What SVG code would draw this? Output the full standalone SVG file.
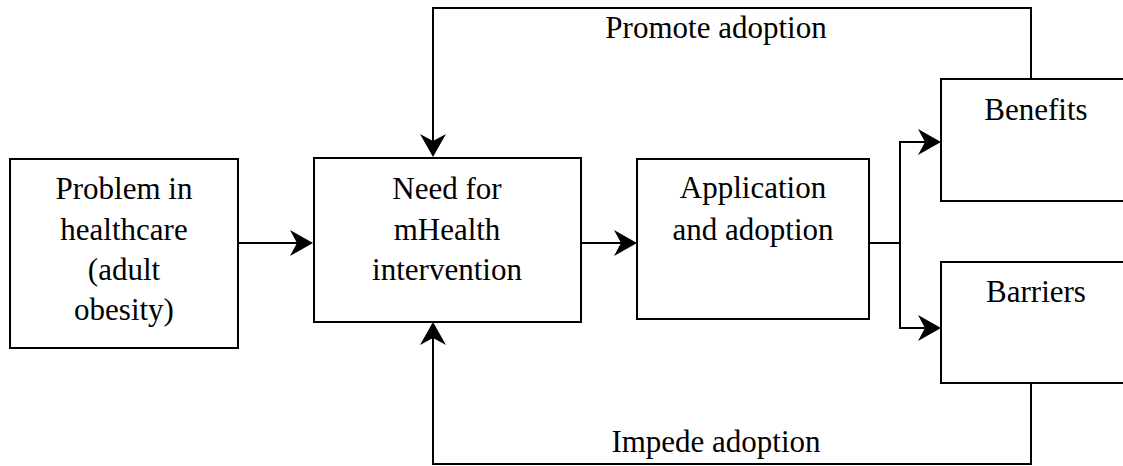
<svg xmlns="http://www.w3.org/2000/svg" width="1123" height="466" viewBox="0 0 1123 466">
<style>
.box{fill:#fff;stroke:#000;stroke-width:2}
.t{font-family:"Liberation Serif","Times New Roman",serif;font-size:31px;fill:#000;text-anchor:middle}
.c{fill:none;stroke:#000;stroke-width:2}
</style>
<defs>
<marker id="ah" markerUnits="userSpaceOnUse" viewBox="-8 -14 26 28" markerWidth="26" markerHeight="28" refX="0" refY="0" orient="auto">
<path d="M16,0 L-7,-13 L0,0 L-7,13 Z" fill="#000"/>
</marker>
</defs>
<rect width="1123" height="466" fill="#fff"/>
<g id="connectors">
<path class="c" d="M237,243 H297" marker-end="url(#ah)"/>
<path class="c" d="M581,243 H621" marker-end="url(#ah)"/>
<path class="c" d="M869,243 H900"/>
<path class="c" d="M900,328 V142 H925" marker-end="url(#ah)"/>
<path class="c" d="M900,243 V328 H925" marker-end="url(#ah)"/>
<path class="c" d="M1031,79 V8 H433 V141" marker-end="url(#ah)"/>
<path class="c" d="M1031,383 V464 H433 V338" marker-end="url(#ah)"/>
<text class="t" x="716" y="38">Promote adoption</text>
<text class="t" x="716" y="452">Impede adoption</text>
</g>
<g id="problem">
<rect class="box" x="10" y="159" width="228" height="189"/>
<text class="t" x="124" y="199">Problem in</text>
<text class="t" x="124" y="240">healthcare</text>
<text class="t" x="124" y="280">(adult</text>
<text class="t" x="124" y="320">obesity)</text>
</g>
<g id="need">
<rect class="box" x="314" y="158" width="267" height="164"/>
<text class="t" x="447" y="199">Need for</text>
<text class="t" x="447" y="240">mHealth</text>
<text class="t" x="447" y="280">intervention</text>
</g>
<g id="application">
<rect class="box" x="637" y="159" width="232" height="160"/>
<text class="t" x="753" y="198">Application</text>
<text class="t" x="753" y="240">and adoption</text>
</g>
<g id="benefits">
<rect class="box" x="941" y="79" width="200" height="122"/>
<text class="t" x="1036" y="120">Benefits</text>
</g>
<g id="barriers">
<rect class="box" x="941" y="262" width="200" height="121"/>
<text class="t" x="1036" y="302">Barriers</text>
</g>
</svg>
